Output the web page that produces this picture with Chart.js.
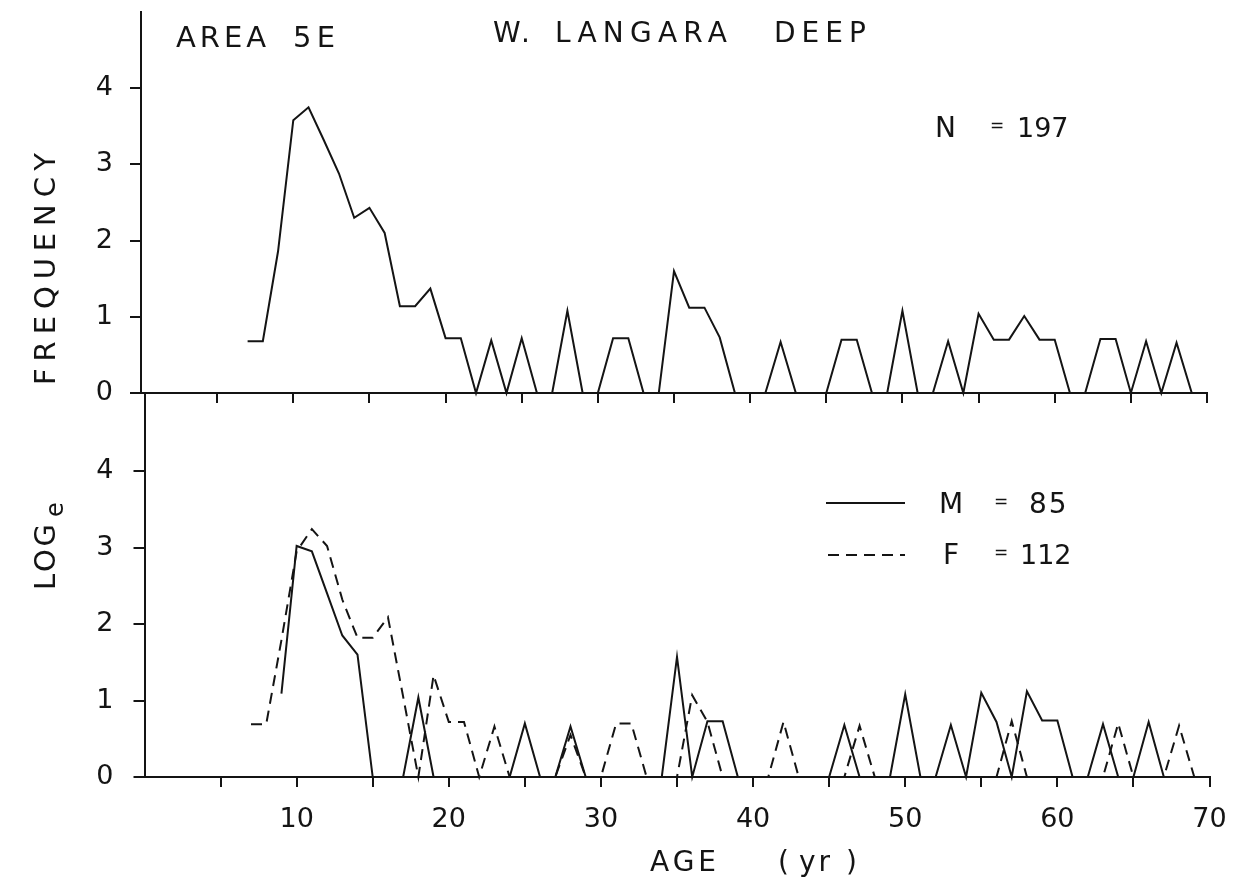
<!DOCTYPE html>
<html>
<head>
<meta charset="utf-8">
<title>Area 5E - W. Langara Deep: age frequency</title>
<script src="https://cdn.jsdelivr.net/npm/chart.js@4.4.1/dist/chart.umd.min.js"></script>
<style>
  html, body { margin: 0; padding: 0; background: #ffffff; }
  #wrap { position: relative; width: 1241px; height: 883px; }
  #wrap canvas { position: absolute; left: 0; top: 0; }
</style>
</head>
<body>
<div id="wrap">
  <canvas id="lowerPanel" width="1241" height="883"></canvas>
  <canvas id="upperPanel" width="1241" height="883"></canvas>
</div>
<script>
// Age classes (years)
const ages = [7, 8, 9, 10, 11, 12, 13, 14, 15, 16, 17, 18, 19, 20, 21, 22, 23, 24, 25, 26,
              27, 28, 29, 30, 31, 32, 33, 34, 35, 36, 37, 38, 39, 40, 41, 42, 43, 44, 45, 46,
              47, 48, 49, 50, 51, 52, 53, 54, 55, 56, 57, 58, 59, 60, 61, 62, 63, 64, 65, 66,
              67, 68, 69];

// log_e frequency, sexes combined (N = 197)
const logFreqAll = [0.68, 0.68, 1.86, 3.58, 3.75, 3.32, 2.88, 2.30, 2.43, 2.10,
                    1.14, 1.14, 1.37, 0.72, 0.72, 0, 0.69, 0, 0.72, 0,
                    0, 1.08, 0, 0, 0.72, 0.72, 0, 0, 1.60, 1.12,
                    1.12, 0.73, 0, 0, 0, 0.67, 0, 0, 0, 0.70,
                    0.70, 0, 0, 1.08, 0, 0, 0.68, 0, 1.04, 0.70,
                    0.70, 1.01, 0.70, 0.70, 0, 0, 0.71, 0.71, 0, 0.68,
                    0, 0.66, 0];

// log_e frequency, males (M = 85)
const logFreqMale = [null, null, 1.09, 3.02, 2.95, 2.40, 1.85, 1.60, 0, 0,
                     0, 1.04, 0, 0, 0, 0, 0, 0, 0.70, 0,
                     0, 0.66, 0, 0, 0, 0, 0, 0, 1.57, 0,
                     0.73, 0.73, 0, 0, 0, 0, 0, 0, 0, 0.68,
                     0, 0, 0, 1.08, 0, 0, 0.68, 0, 1.10, 0.72,
                     0, 1.12, 0.74, 0.74, 0, 0, 0.69, 0, 0, 0.72,
                     0, null, null];

// log_e frequency, females (F = 112)
const logFreqFemale = [0.69, 0.69, 1.79, 2.95, 3.24, 3.02, 2.32, 1.82, 1.82, 2.09,
                       1.05, 0, 1.33, 0.72, 0.72, 0, 0.66, 0, 0, 0,
                       0, 0.55, 0, 0, 0.70, 0.70, 0, 0, 0, 1.07,
                       0.72, 0, 0, 0, 0, 0.72, 0, 0, 0, 0,
                       0.67, 0, 0, 0, 0, 0, 0, 0, 0, 0,
                       0.73, 0, 0, 0, 0, 0, 0, 0.70, 0, 0,
                       0, 0.67, 0];

// Axis ticks
const xTickMarks = [5, 10, 15, 20, 25, 30, 35, 40, 45, 50, 55, 60, 65, 70];
const xTickLabels = [10, 20, 30, 40, 50, 60, 70];
const yTickLabels = [0, 1, 2, 3, 4];

const INK = '#141414';
const FONT = "'DejaVu Sans', 'Liberation Sans', sans-serif";

const toPoints = (vals) => ages.map((a, i) => ({ x: a, y: vals[i] }));

// Lettering with tracking chosen so the word spans x0..x1
function fitText(ctx, text, x0, x1, y, size) {
  ctx.font = size + 'px ' + FONT;
  ctx.letterSpacing = '0px';
  const w = ctx.measureText(text).width;
  const n = [...text].length;
  const ls = n > 1 ? Math.max(0, (x1 - x0 - w) / (n - 1)) : 0;
  ctx.letterSpacing = ls.toFixed(2) + 'px';
  ctx.textAlign = 'left';
  ctx.textBaseline = 'alphabetic';
  ctx.fillText(text, x0, y);
  ctx.letterSpacing = '0px';
}

// Lettering with a fixed tracking
function trackedText(ctx, text, x, y, size, spacing) {
  ctx.font = size + 'px ' + FONT;
  ctx.letterSpacing = spacing + 'px';
  ctx.textAlign = 'left';
  ctx.textBaseline = 'alphabetic';
  ctx.fillText(text, x, y);
  ctx.letterSpacing = '0px';
}

function smallEquals(ctx, x, yMid) {
  ctx.font = '17px ' + FONT;
  ctx.textAlign = 'left';
  ctx.textBaseline = 'middle';
  ctx.fillText('=', x, yMid);
}

function yScale(axisWidth, labelPad) {
  return {
    type: 'linear',
    min: 0,
    max: 5,
    afterFit: (s) => { s.width = axisWidth; s.paddingTop = 0; s.paddingBottom = 0; },
    afterBuildTicks: (s) => { s.ticks = yTickLabels.map(v => ({ value: v })); },
    ticks: {
      color: INK,
      padding: labelPad,
      font: { family: FONT, size: 27 },
      callback: (v) => String(v)
    },
    grid: { drawOnChartArea: false, drawTicks: true, tickLength: 11, color: INK, lineWidth: 2 },
    border: { display: true, color: INK, width: 2 }
  };
}

function xScale(axisHeight, showLabels) {
  return {
    type: 'linear',
    min: 0,
    max: 70,
    afterFit: (s) => { s.height = axisHeight; s.paddingLeft = 0; s.paddingRight = 0; },
    afterBuildTicks: (s) => { s.ticks = xTickMarks.map(v => ({ value: v })); },
    ticks: {
      display: showLabels,
      autoSkip: false,
      maxRotation: 0,
      color: INK,
      padding: 17,
      font: { family: FONT, size: 27 },
      callback: (v) => xTickLabels.includes(v) ? String(v) : ''
    },
    grid: { drawOnChartArea: false, drawTicks: true, tickLength: 10, color: INK, lineWidth: 2 },
    border: { display: true, color: INK, width: 2 }
  };
}

const lineStyle = { borderColor: INK, borderWidth: 2, pointRadius: 0, tension: 0, fill: false, clip: false, spanGaps: false };

// Titles, annotations, legend and axis titles
const annotations = {
  id: 'annotations',
  afterDraw(chart) {
    const ctx = chart.ctx;
    ctx.save();
    ctx.fillStyle = INK;

    fitText(ctx, 'AREA', 176, 266, 47, 29);
    fitText(ctx, '5E', 293, 335, 47, 29);
    fitText(ctx, 'W.', 493, 530, 42, 28);
    fitText(ctx, 'LANGARA', 555, 727, 42, 28);
    fitText(ctx, 'DEEP', 774, 866, 42, 28);

    fitText(ctx, 'N', 935, 958, 137, 28);
    smallEquals(ctx, 990, 127);
    trackedText(ctx, '197', 1017, 137, 27, 0);

    // legend
    const dsM = chart.data.datasets[0];
    const dsF = chart.data.datasets[1];
    ctx.strokeStyle = INK;
    ctx.lineWidth = 2;
    ctx.setLineDash(dsM.borderDash || []);
    ctx.beginPath(); ctx.moveTo(826, 503); ctx.lineTo(905, 503); ctx.stroke();
    ctx.setLineDash(dsF.borderDash || []);
    ctx.beginPath(); ctx.moveTo(828, 555); ctx.lineTo(905, 555); ctx.stroke();
    ctx.setLineDash([]);

    fitText(ctx, 'M', 939, 963, 513, 28);
    smallEquals(ctx, 994, 503);
    trackedText(ctx, '85', 1029, 513, 28, 2);
    fitText(ctx, 'F', 943, 959, 564, 28);
    smallEquals(ctx, 994, 554);
    trackedText(ctx, '112', 1020, 564, 27, 0);

    // x axis title
    fitText(ctx, 'AGE', 650, 716, 871, 28);
    trackedText(ctx, '(', 778, 871, 28, 0);
    trackedText(ctx, 'yr', 799, 871, 28, 3);
    trackedText(ctx, ')', 846, 871, 28, 0);

    // y axis title, read bottom to top
    ctx.save();
    ctx.translate(55, 590);
    ctx.rotate(-Math.PI / 2);
    fitText(ctx, 'LOG', 0, 66, 0, 29);
    ctx.font = '24px ' + FONT;
    ctx.textAlign = 'left';
    ctx.fillText('e', 73, 8);
    fitText(ctx, 'FREQUENCY', 205, 437, 0, 29);
    ctx.restore();

    ctx.restore();
  }
};

// Lower panel: males and females
new Chart(document.getElementById('lowerPanel'), {
  type: 'line',
  data: {
    datasets: [
      Object.assign({ label: 'M = 85', data: toPoints(logFreqMale), borderDash: [] }, lineStyle),
      Object.assign({ label: 'F = 112', data: toPoints(logFreqFemale), borderDash: [11, 7] }, lineStyle)
    ]
  },
  options: {
    responsive: false,
    animation: false,
    devicePixelRatio: 1,
    layout: { padding: { left: 0, right: 31.5, top: 394.5, bottom: 46 } },
    scales: { x: xScale(60, true), y: yScale(144.5, 20) },
    plugins: { legend: { display: false }, tooltip: { enabled: false } }
  },
  plugins: [annotations]
});

// Upper panel: sexes combined
new Chart(document.getElementById('upperPanel'), {
  type: 'line',
  data: {
    datasets: [
      Object.assign({ label: 'N = 197', data: toPoints(logFreqAll) }, lineStyle)
    ]
  },
  options: {
    responsive: false,
    animation: false,
    devicePixelRatio: 1,
    layout: { padding: { left: 0, right: 34, top: 12, bottom: 478 } },
    scales: { x: xScale(12, false), y: yScale(141, 17) },
    plugins: { legend: { display: false }, tooltip: { enabled: false } }
  }
});
</script>
</body>
</html>
